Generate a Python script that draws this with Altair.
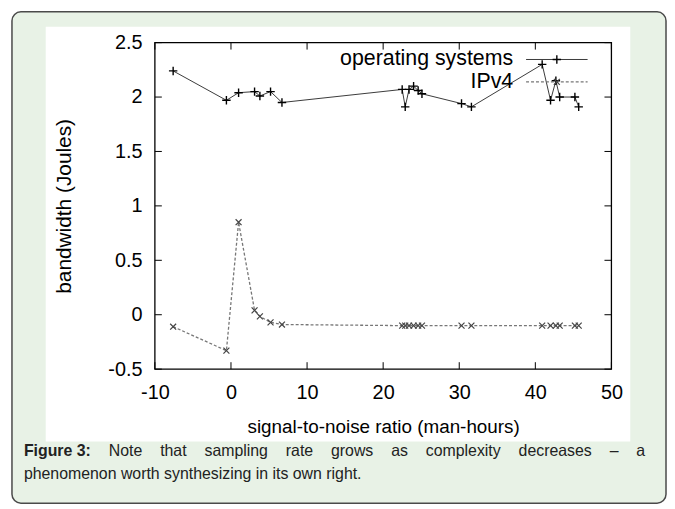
import altair as alt
import pandas as pd

# ---------------- data ----------------
snr = [-7.6, -0.6, 1.0, 3.1, 3.8, 5.2, 6.7, 22.5, 22.9, 23.4, 24.0, 24.6, 25.1,
       30.3, 31.6, 40.9, 42.0, 42.7, 43.2, 45.2, 45.7]
os_bw = [2.24, 1.97, 2.04, 2.05, 2.01, 2.05, 1.95, 2.07, 1.91, 2.07, 2.10, 2.06, 2.03,
         1.94, 1.91, 2.30, 1.97, 2.15, 2.00, 2.00, 1.91]
ipv4_bw = [-0.11, -0.33, 0.85, 0.04, -0.015, -0.07, -0.09, -0.10, -0.10, -0.10, -0.10,
           -0.10, -0.10, -0.10, -0.10, -0.10, -0.10, -0.10, -0.10, -0.10, -0.10]
series = ["operating systems", "IPv4"]
x_ticks = [-10, 0, 10, 20, 30, 40, 50]
y_ticks = [-0.5, 0, 0.5, 1, 1.5, 2, 2.5]
x_title = "signal-to-noise ratio (man-hours)"
y_title = "bandwidth (Joules)"
caption_bold = "Figure 3:"
caption_line1 = "Note that sampling rate grows as complexity decreases – a"
caption_line2 = "phenomenon worth synthesizing in its own right."

# ---------------- styling ----------------
FONT = "Liberation Sans"
W, H = 460, 329
GREEN = "#e8f2e6"
PLUS = "M-1,0L1,0M0,-1L0,1"
CROSS = "M-1,-1L1,1M-1,1L1,-1"

df_os = pd.DataFrame({"snr": snr, "bw": os_bw})
df_ip = pd.DataFrame({"snr": snr, "bw": ipv4_bw})
df_xt = pd.DataFrame({"snr": x_ticks})
df_yt = pd.DataFrame({"bw": y_ticks})
one = alt.Data(values=[{}])

x_axis = alt.Axis(values=x_ticks, title=x_title, grid=False, ticks=False, tickSize=0,
                  domain=False, labelFont=FONT, labelFontSize=20, labelColor="black",
                  labelPadding=14, labelFlush=False, labelOverlap=False,
                  labelExpr="datum.value + ''",
                  titleFont=FONT, titleFontSize=19, titleFontWeight="normal",
                  titleColor="black", titleY=58, titleBaseline="middle", zindex=1)
y_axis = alt.Axis(values=y_ticks, title=y_title, grid=False, ticks=False, tickSize=0,
                  domain=False, labelFont=FONT, labelFontSize=20, labelColor="black",
                  labelPadding=13, labelFlush=False, labelOverlap=False,
                  labelExpr="datum.value + ''",
                  titleFont=FONT, titleFontSize=21, titleFontWeight="normal",
                  titleColor="black", titleX=-91, titleY=H / 2, titleAngle=270,
                  titleAlign="center", titleBaseline="middle", zindex=1)
xs = alt.Scale(domain=[-10, 50], nice=False, zero=False)
ys = alt.Scale(domain=[-0.5, 2.5], nice=False, zero=False)
X = alt.X("snr:Q", scale=xs, axis=x_axis)
Y = alt.Y("bw:Q", scale=ys, axis=y_axis)

# background panels
outer = alt.Chart(one).mark_rect(fill=GREEN, stroke="#4a4a4a", strokeWidth=1.5,
                                 cornerRadius=9).encode(
    x=alt.value(-144), x2=alt.value(515), y=alt.value(-31), y2=alt.value(464))
inner = alt.Chart(one).mark_rect(fill="white").encode(
    x=alt.value(-110), x2=alt.value(479), y=alt.value(-16), y2=alt.value(402))

# inward ticks on all four sides
TL = 7
tick_b = alt.Chart(df_xt).mark_rule(color="black", strokeWidth=1).encode(
    x=X, y=alt.value(H), y2=alt.value(H - TL))
tick_t = alt.Chart(df_xt).mark_rule(color="black", strokeWidth=1).encode(
    x=X, y=alt.value(0), y2=alt.value(TL))
tick_l = alt.Chart(df_yt).mark_rule(color="black", strokeWidth=1).encode(
    y=Y, x=alt.value(0), x2=alt.value(TL))
tick_r = alt.Chart(df_yt).mark_rule(color="black", strokeWidth=1).encode(
    y=Y, x=alt.value(W), x2=alt.value(W - TL))

# series
line_os = alt.Chart(df_os).mark_line(color="#3a3a3a", strokeWidth=1).encode(x=X, y=Y)
pts_os = alt.Chart(df_os).mark_point(shape=PLUS, filled=False, color="black",
                                     strokeWidth=1.4, size=72, opacity=1).encode(x=X, y=Y)
line_ip = alt.Chart(df_ip).mark_line(color="#777777", strokeWidth=1.3,
                                     strokeDash=[3, 2]).encode(x=X, y=Y)
pts_ip = alt.Chart(df_ip).mark_point(shape=CROSS, filled=False, color="#444444",
                                     strokeWidth=1.2, size=36, opacity=1).encode(x=X, y=Y)

# gnuplot-style legend (text left of sample)
LX_TEXT, LX0, LX1 = 361, 374, 436
LY = [17, 39.5]
LFS = 21.5
leg = []
leg.append(alt.Chart(one).mark_text(text=series[0], font=FONT, fontSize=LFS, align="right",
                                    baseline="middle", color="black").encode(
    x=alt.value(LX_TEXT), y=alt.value(LY[0])))
leg.append(alt.Chart(one).mark_text(text=series[1], font=FONT, fontSize=LFS, align="right",
                                    baseline="middle", color="black").encode(
    x=alt.value(LX_TEXT), y=alt.value(LY[1])))
leg.append(alt.Chart(one).mark_rule(color="#3a3a3a", strokeWidth=1).encode(
    x=alt.value(LX0), x2=alt.value(LX1), y=alt.value(LY[0])))
leg.append(alt.Chart(one).mark_rule(color="#777777", strokeWidth=1.3, strokeDash=[3, 2]).encode(
    x=alt.value(LX0), x2=alt.value(LX1), y=alt.value(LY[1])))
leg.append(alt.Chart(one).mark_point(shape=PLUS, filled=False, color="black", strokeWidth=1.4,
                                     size=72, opacity=1).encode(
    x=alt.value((LX0 + LX1) / 2), y=alt.value(LY[0])))
leg.append(alt.Chart(one).mark_point(shape=CROSS, filled=False, color="#444444", strokeWidth=1.2,
                                     size=36, opacity=1).encode(
    x=alt.value((LX0 + LX1) / 2), y=alt.value(LY[1])))

# frame
frame = alt.Chart(one).mark_rect(filled=False, stroke="black", strokeWidth=1.3).encode(
    x=alt.value(0), x2=alt.value(W), y=alt.value(0), y2=alt.value(H))

# caption (justified first line, Arial metrics)
AR = {' ': 278, 'a': 556, 'b': 556, 'c': 500, 'd': 556, 'e': 556, 'f': 278, 'g': 556,
      'h': 556, 'i': 222, 'j': 222, 'k': 500, 'l': 222, 'm': 833, 'n': 556, 'o': 556,
      'p': 556, 'q': 556, 'r': 333, 's': 500, 't': 278, 'u': 556, 'v': 500, 'w': 722,
      'x': 500, 'y': 500, 'z': 500, 'N': 722, '–': 556, '.': 278, ':': 278, '3': 556,
      'F': 611}
ARB = {'F': 611, 'i': 278, 'g': 611, 'u': 611, 'r': 389, 'e': 556, ' ': 278, '3': 556,
       ':': 333}
CS = 16


def tw(s, bold=False):
    t = ARB if bold else AR
    return sum(t.get(c, 556) for c in s) * CS / 1000


CX0, CX1 = -132, 494
words = [(caption_bold, True)] + [(w, False) for w in caption_line1.split()]
total = sum(tw(w, b) for w, b in words)
gap = (CX1 - CX0 - total) / (len(words) - 1)
rows, cx = [], CX0
for w, b in words:
    rows.append({"word": w, "px": cx, "bold": b})
    cx += tw(w, b) + gap
cap_df = pd.DataFrame(rows)
cap_b = alt.Chart(cap_df[cap_df.bold]).mark_text(font=FONT, fontSize=CS, fontWeight="bold",
                                                  align="left", baseline="alphabetic",
                                                  color="#222222").encode(
    x=alt.X("px:Q", scale=None), y=alt.value(417), text="word:N")
cap_n = alt.Chart(cap_df[~cap_df.bold]).mark_text(font=FONT, fontSize=CS, align="left",
                                                   baseline="alphabetic",
                                                   color="#222222").encode(
    x=alt.X("px:Q", scale=None), y=alt.value(417), text="word:N")
cap_2 = alt.Chart(one).mark_text(text=caption_line2, font=FONT, fontSize=CS, align="left",
                                 baseline="alphabetic", color="#222222").encode(
    x=alt.value(CX0), y=alt.value(440))

chart = alt.layer(outer, inner, tick_b, tick_t, tick_l, tick_r, line_ip, pts_ip,
                  line_os, pts_os, *leg, frame, cap_b, cap_n, cap_2).properties(
    width=W, height=H,
    autosize=alt.AutoSizeParams(type="none"),
    padding={"left": 148, "top": 33, "right": 56, "bottom": 136},
).configure_view(strokeWidth=0)

chart.save("out.html", embed_options={"renderer": "svg", "actions": False})
